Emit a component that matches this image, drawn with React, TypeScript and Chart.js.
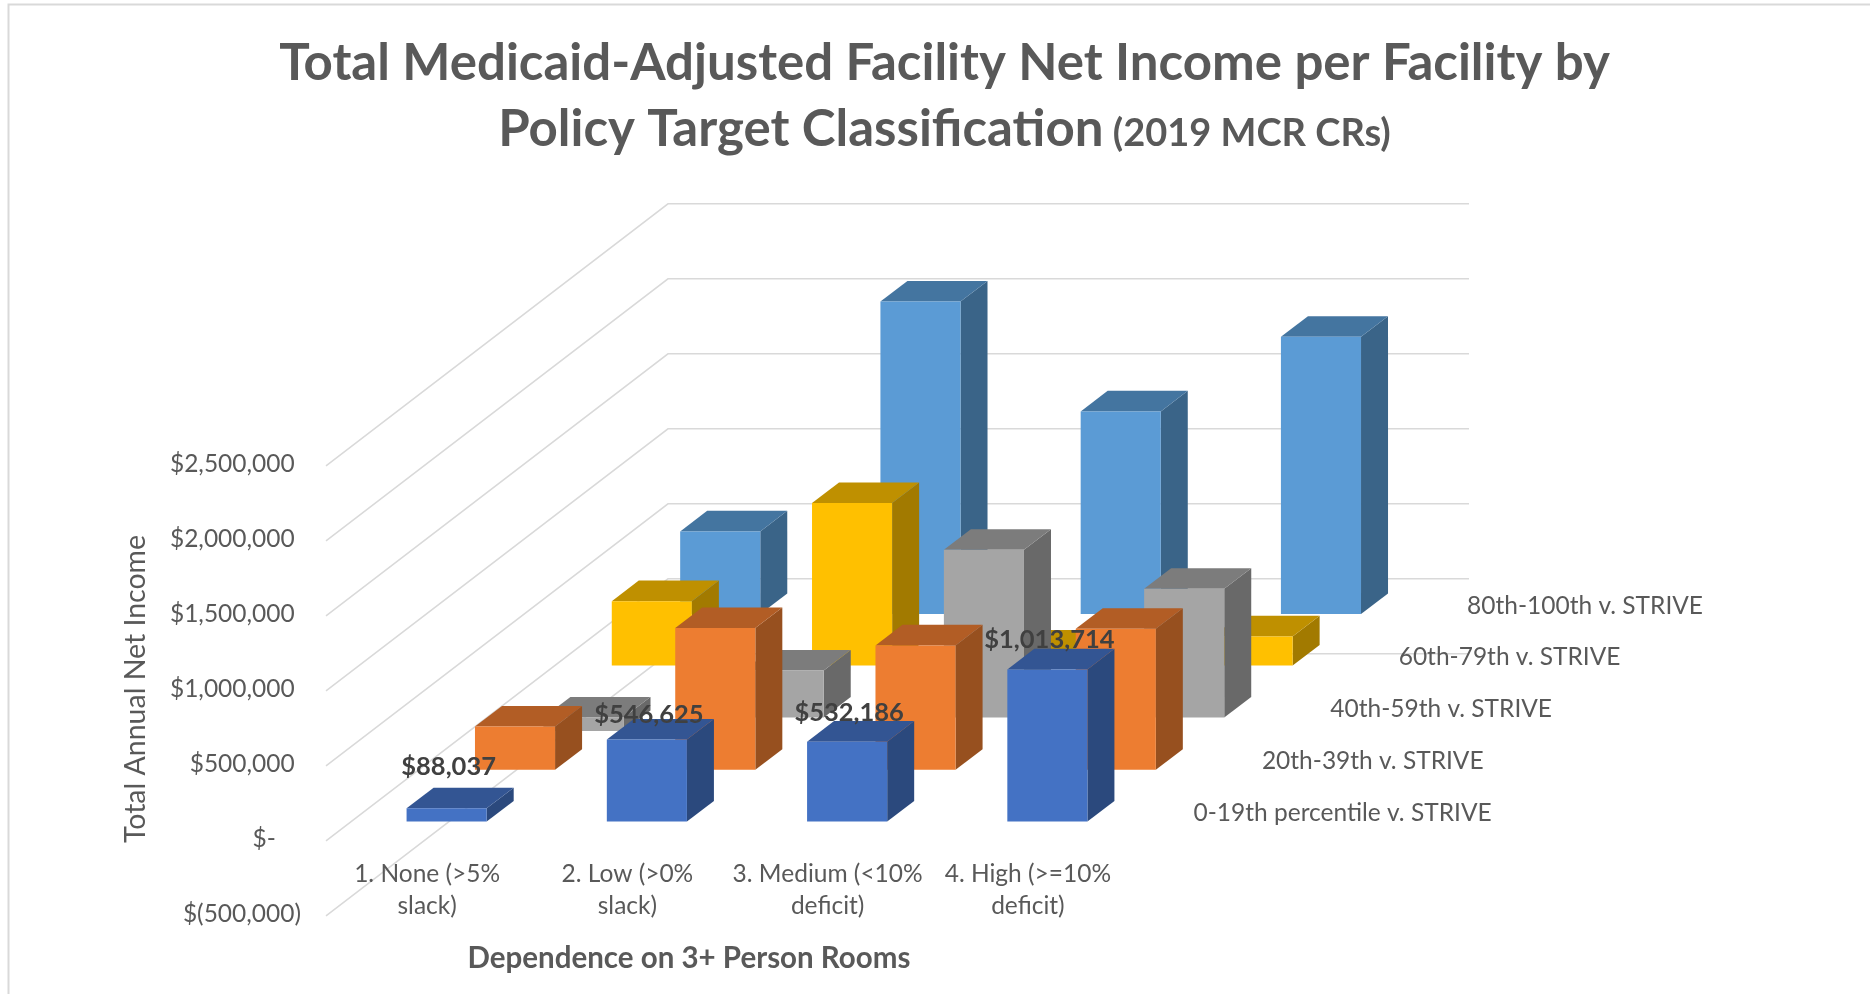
import React, { useEffect, useRef } from "react";
import { Chart, registerables } from "chart.js";

Chart.register(...registerables);

const categories = [
  ["1. None (>5%", "slack)"],
  ["2. Low (>0%", "slack)"],
  ["3. Medium (<10%", "deficit)"],
  ["4. High (>=10%", "deficit)"],
];
const seriesNames = [
  "0-19th percentile v. STRIVE",
  "20th-39th v. STRIVE",
  "40th-59th v. STRIVE",
  "60th-79th v. STRIVE",
  "80th-100th v. STRIVE",
];
const pct0to19 = [88037, 546625, 532186, 1013714];
const pct20to39 = [288000, 945000, 829000, 940000];
const pct40to59 = [-90000, 313000, 1118000, 858000];
const pct60to79 = [429000, 1083000, 100000, 194000];
const pct80to100 = [551000, 2084000, 1351000, 1849000];
const titleLine1 = "Total Medicaid-Adjusted Facility Net Income per Facility by";
const titleLine2 = "Policy Target Classification";
const titleSuffix = " (2019 MCR CRs)";
const yAxisTitle = "Total Annual Net Income";
const xAxisTitle = "Dependence on 3+ Person Rooms";

const FONT = "Lato, 'Open Sans', sans-serif";
const TEXT = "#595959";
const GRID = "#D9D9D9";
const frontColors = ["#4472C4", "#ED7D31", "#A5A5A5", "#FFC000", "#5B9BD5"];
const topColors = ["#335593", "#B25D25", "#7C7C7C", "#BF9000", "#4475A0"];
const sideColors = ["#2B497D", "#97501F", "#696969", "#A27A00", "#3A6488"];

// Oblique projection of the depth axis
const serieDx = [19.5, 87.9, 156.3, 224.7, 293.1];
const serieDy = [-17.5, -69.2, -121.5, -173.5, -224.9];
const BAR_DX = 27;
const BAR_DY = -20.6;
const WALL_DX = 342;
const WALL_DY = -262;
const WALL_RIGHT = 1469;
const labelNudge = [-42, -25, -29, -30];

const money = (v: number) => "$" + Math.round(v).toLocaleString("en-US");

const pseudo3d = {
  id: "pseudo3d",
  beforeDraw(chart: any) {
    const { ctx } = chart;
    ctx.save();
    ctx.strokeStyle = GRID;
    ctx.lineWidth = 2;
    ctx.beginPath();
    ctx.moveTo(8.5, 1000);
    ctx.lineTo(8.5, 4.5);
    ctx.lineTo(1880, 4.5);
    ctx.stroke();

    // Title (mixed font sizes, so drawn here)
    ctx.fillStyle = TEXT;
    ctx.textBaseline = "alphabetic";
    ctx.textAlign = "left";
    const big = `bold 51px ${FONT}`;
    const small = `bold 38px ${FONT}`;
    ctx.font = big;
    const w1 = ctx.measureText(titleLine1).width;
    ctx.fillText(titleLine1, 944.5 - w1 / 2, 80);
    const w2 = ctx.measureText(titleLine2).width;
    ctx.font = small;
    const w3 = ctx.measureText(titleSuffix).width;
    const start = 944.5 - (w2 + w3) / 2;
    ctx.font = big;
    ctx.fillText(titleLine2, start, 146);
    ctx.font = small;
    ctx.fillText(titleSuffix, start + w2, 146);

    // Walls and floor lines
    const y = chart.scales.y;
    const x = chart.scales.x;
    ctx.strokeStyle = GRID;
    ctx.lineWidth = 1.5;
    y.ticks.forEach((t: any) => {
      const py = y.getPixelForValue(t.value) + 1.8;
      ctx.beginPath();
      ctx.moveTo(x.left - 1, py);
      ctx.lineTo(x.left - 1 + WALL_DX, py + WALL_DY);
      ctx.lineTo(WALL_RIGHT, py + WALL_DY);
      ctx.stroke();
    });
    ctx.restore();
  },
  beforeDatasetDraw(chart: any, args: any) {
    const i = args.index;
    const { ctx } = chart;
    ctx.save();
    ctx.translate(serieDx[i], serieDy[i]);
    args.meta.data.forEach((el: any) => {
      const l = el.x - el.width / 2;
      const r = el.x + el.width / 2;
      const t = Math.min(el.y, el.base);
      const b = Math.max(el.y, el.base);
      ctx.fillStyle = sideColors[i];
      ctx.beginPath();
      ctx.moveTo(r, t);
      ctx.lineTo(r + BAR_DX, t + BAR_DY);
      ctx.lineTo(r + BAR_DX, b + BAR_DY);
      ctx.lineTo(r, b);
      ctx.closePath();
      ctx.fill();
      ctx.fillStyle = topColors[i];
      ctx.beginPath();
      ctx.moveTo(l, t);
      ctx.lineTo(l + BAR_DX, t + BAR_DY);
      ctx.lineTo(r + BAR_DX, t + BAR_DY);
      ctx.lineTo(r, t);
      ctx.closePath();
      ctx.fill();
    });
  },
  afterDatasetDraw(chart: any) {
    chart.ctx.restore();
  },
  afterDatasetsDraw(chart: any) {
    const { ctx } = chart;
    const x = chart.scales.x;
    const y = chart.scales.y;
    ctx.save();
    // Data labels of the front series
    ctx.font = `bold 25.5px ${FONT}`;
    ctx.fillStyle = "#404040";
    ctx.textAlign = "center";
    ctx.textBaseline = "middle";
    chart.getDatasetMeta(0).data.forEach((el: any, j: number) => {
      ctx.fillText(
        money(chart.data.datasets[0].data[j]),
        el.x + serieDx[0] + 2,
        el.y + serieDy[0] + labelNudge[j]
      );
    });
    // Depth axis labels
    ctx.font = `24.5px ${FONT}`;
    ctx.fillStyle = TEXT;
    ctx.textAlign = "left";
    chart.data.datasets.forEach((ds: any, i: number) => {
      ctx.fillText(ds.label, x.right + 46 + serieDx[i], y.getPixelForValue(0) + serieDy[i] - 8.5);
    });
    // X axis title, centred on the front edge of the floor
    ctx.font = `bold 29.5px ${FONT}`;
    ctx.textAlign = "center";
    ctx.fillText(xAxisTitle, 689, 958.5);
    ctx.restore();
  },
};

export default function App() {
  const ref = useRef<HTMLCanvasElement>(null);
  useEffect(() => {
    document.body.style.margin = "0";
    const chart = new Chart(ref.current!, {
      type: "bar",
      data: {
        labels: categories as any,
        datasets: [pct0to19, pct20to39, pct40to59, pct60to79, pct80to100].map((data, i) => ({
          label: seriesNames[i],
          data,
          backgroundColor: frontColors[i],
          borderWidth: 0,
          grouped: false,
          clip: false as any,
          barPercentage: 0.4,
          categoryPercentage: 1,
        })),
      },
      options: {
        responsive: false,
        animation: false,
        layout: { padding: { left: 119, right: 742, top: 464, bottom: 0 } },
        plugins: { legend: { display: false }, tooltip: { enabled: false } },
        scales: {
          x: {
            grid: { display: false, drawTicks: false },
            border: { display: false },
            afterFit: (s: any) => { s.height = 80; },
            // The tick labels sit above the axis line, inside the plot: no clipping to the scale box
            afterUpdate: (s: any) => { s._computeLabelArea = () => undefined; },
            ticks: {
              autoSkip: false,
              maxRotation: 0,
              minRotation: 0,
              padding: -56,
              color: TEXT,
              font: { family: FONT, size: 24.5, lineHeight: 1.3 },
            },
          },
          y: {
            min: -500000,
            max: 2500000,
            afterFit: (s: any) => { s.width = 208; },
            afterBuildTicks: (s: any) => {
              s.ticks = [-500000, 0, 500000, 1000000, 1500000, 2000000, 2500000].map((value) => ({ value }));
            },
            grid: { display: false, drawTicks: false },
            border: { display: false },
            title: {
              display: true,
              text: yAxisTitle,
              color: TEXT,
              font: { family: FONT, size: 28.5 },
              padding: 0,
            },
            ticks: {
              padding: 26,
              color: TEXT,
              font: { family: FONT, size: 24.5 },
              callback: (v: any) => {
                if (v === 0) return "$-\u00A0\u00A0\u00A0\u00A0";
                if (v < 0) return "$(" + Math.abs(v).toLocaleString("en-US") + ")";
                return money(v) + "\u00A0";
              },
            },
          },
        },
      },
      plugins: [pseudo3d],
    } as any);
    return () => chart.destroy();
  }, []);
  return <canvas ref={ref} width={1870} height={994} style={{ display: "block" }} />;
}
